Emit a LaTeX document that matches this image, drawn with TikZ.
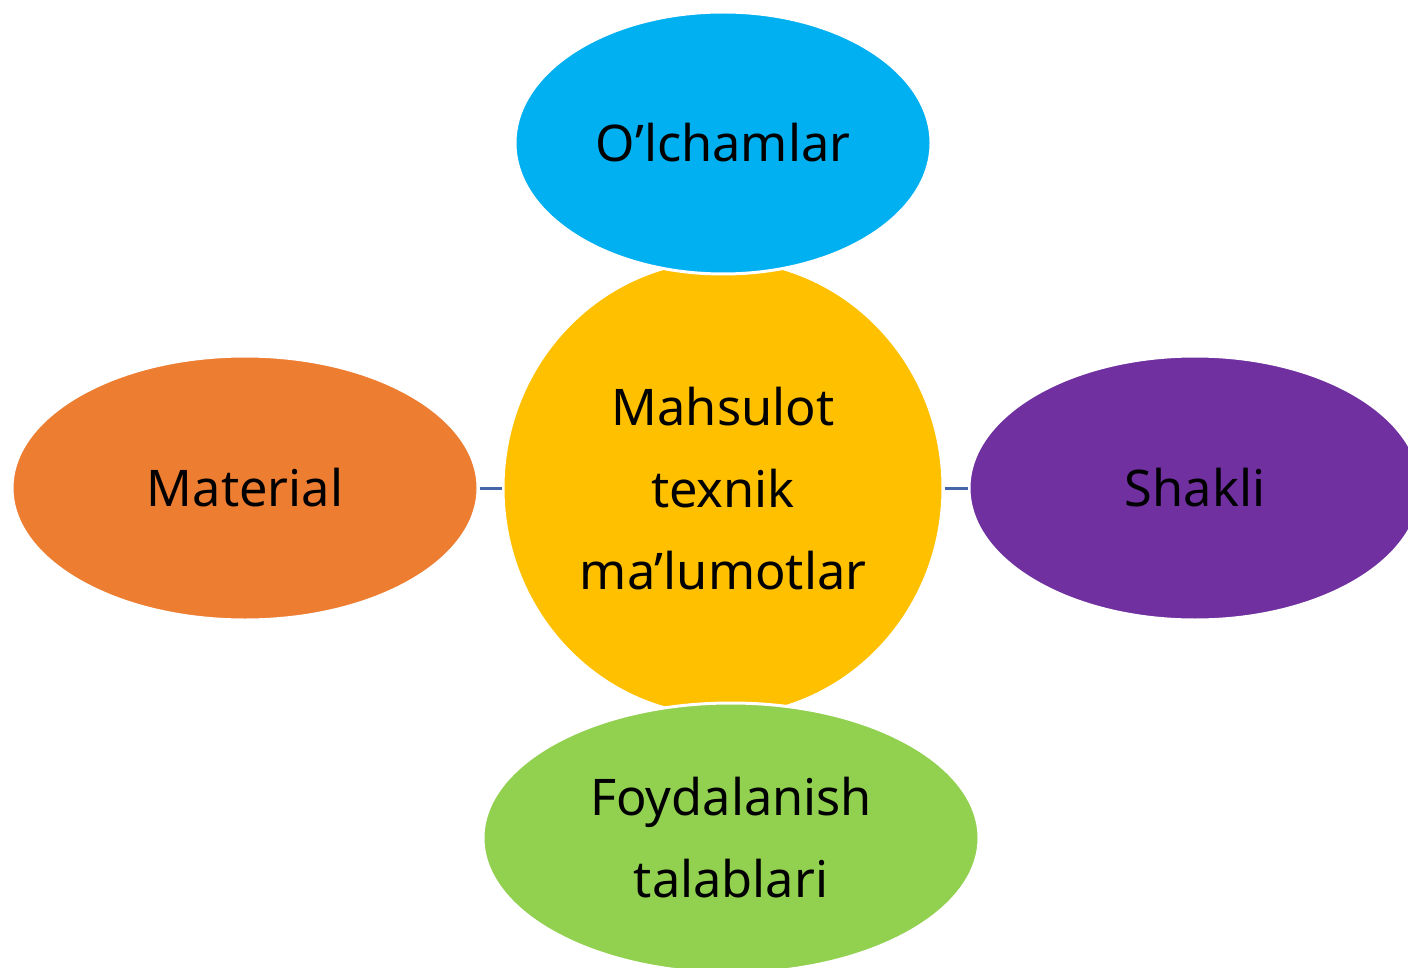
\documentclass[tikz,border=0pt]{standalone}
\usepackage{fontspec}
\setmainfont{Noto Sans}
\usetikzlibrary{shapes.geometric}
\definecolor{cTop}{HTML}{00B0F0}
\definecolor{cMid}{HTML}{FFC000}
\definecolor{cLeft}{HTML}{ED7D31}
\definecolor{cRight}{HTML}{7030A0}
\definecolor{cBot}{HTML}{92D050}
\definecolor{cLine}{HTML}{4466A8}
\tikzset{
  blob/.style={ellipse, draw=white, line width=3pt, inner sep=0pt},
  lbl/.style={font=\fontsize{50.5}{82}\selectfont, text=black, align=center},
  link/.style={draw=cLine, line width=3pt}
}
\begin{document}
\begin{tikzpicture}[x=1pt,y=-1pt]
\useasboundingbox (0,0) rectangle (1408,968);
\clip (0,0) rectangle (1408,968);
\node[blob, fill=cMid, minimum width=440pt, minimum height=456pt] (mid) at (723,488) {};
\node[blob, fill=cTop, minimum width=416pt, minimum height=262pt] (top) at (723,143) {};
\node[blob, fill=cLeft, minimum width=466pt, minimum height=264pt] (left) at (245,488) {};
\node[blob, fill=cRight, minimum width=452pt, minimum height=264pt] (right) at (1195,488) {};
\node[blob, fill=cBot, minimum width=496pt, minimum height=270pt] (bot) at (731,838) {};
\draw[link] (left.east) -- (mid.west);
\draw[link] (mid.east) -- (right.west);
\node[lbl] (tmid) at (723,489) {Mahsulot\\texnik\\ma’lumotlar};
\node[lbl] (ttop) at (723,143) {O’lchamlar};
\node[lbl] (tleft) at (245,488) {Material};
\node[lbl] (tright) at (1195,488) {Shakli};
\node[lbl] (tbot) at (731,838) {Foydalanish\\talablari};
\end{tikzpicture}
\end{document}
